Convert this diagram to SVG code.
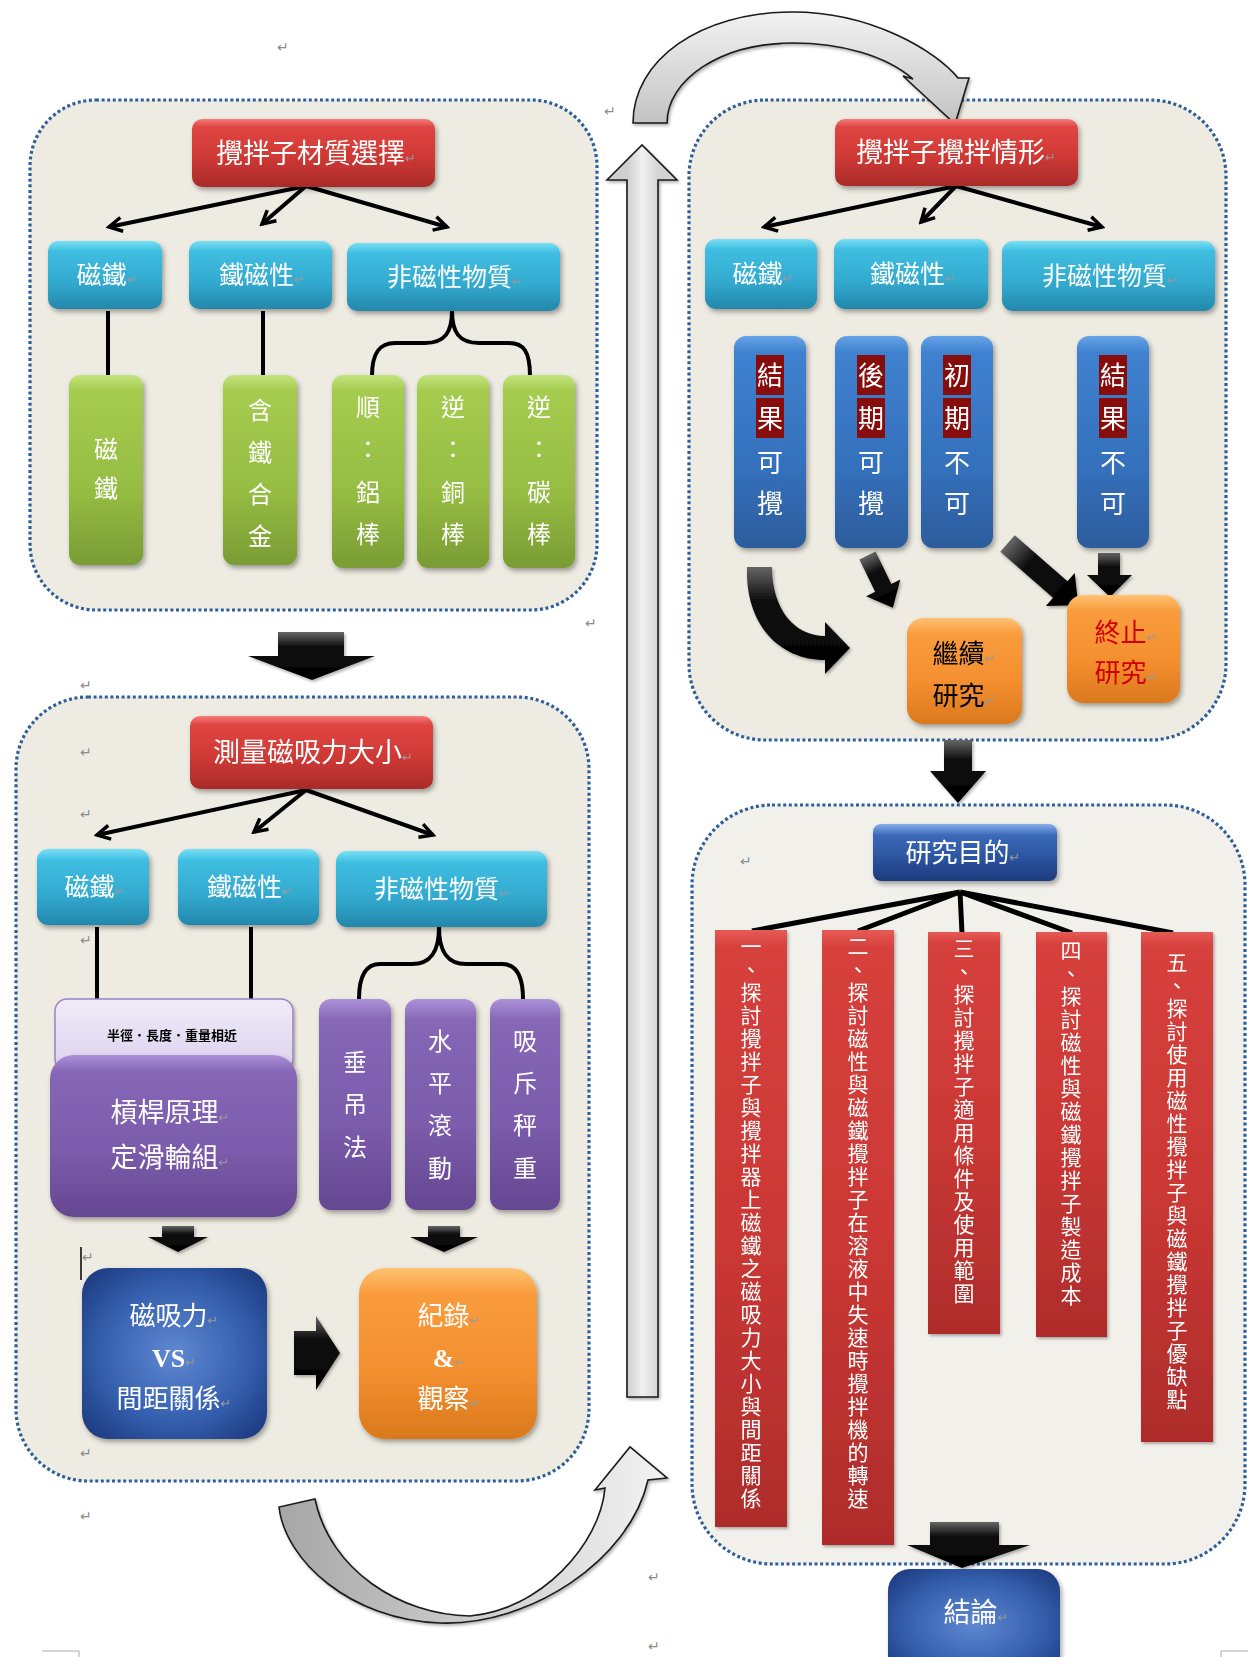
<svg xmlns="http://www.w3.org/2000/svg" width="1248" height="1657" viewBox="0 0 1248 1657">
<defs>
  <style>
    .panel{stroke:#2F5F98;stroke-width:3.2;stroke-dasharray:3 2.6}
    .t{font-family:"Noto Sans CJK TC","Noto Sans CJK SC",sans-serif;fill:#fff;text-anchor:middle}
    .serif{font-family:"Liberation Serif",serif;font-weight:bold}
    .k{fill:#000}
    .pm{fill:#9a9a9a;font-family:"DejaVu Sans",sans-serif;font-size:13px;font-weight:normal}
    .free{fill:#8c8c8c;font-family:"DejaVu Sans",sans-serif;font-size:14px}
    .vt{font-family:"Noto Sans CJK TC","Noto Sans CJK SC",sans-serif;fill:#fff;font-size:21px;letter-spacing:2px;writing-mode:vertical-rl}
    .thin{fill:none;stroke:#000;stroke-width:4;marker-end:url(#ah)}
    .ln{fill:none;stroke:#000;stroke-width:4}
    .hl{fill:#870808}
  </style>
  <filter id="sh" x="-20%" y="-20%" width="140%" height="140%">
    <feDropShadow dx="2" dy="3" stdDeviation="2.5" flood-color="#000" flood-opacity="0.35"/>
  </filter>
  <filter id="shs" x="-20%" y="-20%" width="140%" height="140%">
    <feDropShadow dx="1.5" dy="2" stdDeviation="1.5" flood-color="#000" flood-opacity="0.3"/>
  </filter>
  <marker id="ah" viewBox="0 0 18 18" refX="15" refY="9" markerWidth="18" markerHeight="18" markerUnits="userSpaceOnUse" orient="auto">
    <path d="M2,2 L15,9 L2,16" fill="none" stroke="#000" stroke-width="3.5"/>
  </marker>
  <linearGradient id="gRed" x1="0" y1="0" x2="0" y2="1">
    <stop offset="0" stop-color="#F47C78"/><stop offset="0.12" stop-color="#DF4541"/>
    <stop offset="0.55" stop-color="#D03935"/><stop offset="1" stop-color="#A92B2A"/>
  </linearGradient>
  <linearGradient id="gCyan" x1="0" y1="0" x2="0" y2="1">
    <stop offset="0" stop-color="#7ADFF6"/><stop offset="0.15" stop-color="#3FBEE1"/>
    <stop offset="0.6" stop-color="#33AACF"/><stop offset="1" stop-color="#2487AC"/>
  </linearGradient>
  <linearGradient id="gGreen" x1="0" y1="0" x2="0" y2="1">
    <stop offset="0" stop-color="#C4E47E"/><stop offset="0.08" stop-color="#A5CC4F"/>
    <stop offset="0.6" stop-color="#96BD43"/><stop offset="1" stop-color="#799C34"/>
  </linearGradient>
  <linearGradient id="gBlue" x1="0" y1="0" x2="0" y2="1">
    <stop offset="0" stop-color="#66A3E6"/><stop offset="0.08" stop-color="#3F81D0"/>
    <stop offset="0.6" stop-color="#3571BD"/><stop offset="1" stop-color="#2C5C9C"/>
  </linearGradient>
  <linearGradient id="gOrange" x1="0" y1="0" x2="0" y2="1">
    <stop offset="0" stop-color="#FFC272"/><stop offset="0.15" stop-color="#F99C3D"/>
    <stop offset="0.6" stop-color="#F48F2F"/><stop offset="1" stop-color="#DA791D"/>
  </linearGradient>
  <linearGradient id="gPurple" x1="0" y1="0" x2="0" y2="1">
    <stop offset="0" stop-color="#AC92D8"/><stop offset="0.1" stop-color="#8667B6"/>
    <stop offset="0.6" stop-color="#7B5BAB"/><stop offset="1" stop-color="#654791"/>
  </linearGradient>
  <linearGradient id="gLilac" x1="0" y1="0" x2="0" y2="1">
    <stop offset="0" stop-color="#F0EBF8"/><stop offset="1" stop-color="#DCD2EE"/>
  </linearGradient>
  <linearGradient id="gNavy" x1="0" y1="0" x2="0" y2="1">
    <stop offset="0" stop-color="#86AEEE"/><stop offset="0.2" stop-color="#3A69B8"/>
    <stop offset="0.6" stop-color="#2B549F"/><stop offset="1" stop-color="#1D3A7C"/>
  </linearGradient>
  <radialGradient id="gNavyR" cx="0.5" cy="0.5" r="0.65">
    <stop offset="0" stop-color="#6088D2"/><stop offset="0.6" stop-color="#3560AE"/>
    <stop offset="1" stop-color="#1E3C82"/>
  </radialGradient>
  <linearGradient id="gBar" x1="0" y1="0" x2="0" y2="1">
    <stop offset="0" stop-color="#E65A55"/><stop offset="0.03" stop-color="#D6403C"/>
    <stop offset="0.5" stop-color="#CB3835"/><stop offset="1" stop-color="#AE2C2B"/>
  </linearGradient>
  <linearGradient id="gBlk" x1="0" y1="0" x2="0" y2="1">
    <stop offset="0" stop-color="#666"/><stop offset="0.3" stop-color="#111"/>
    <stop offset="1" stop-color="#000"/>
  </linearGradient>
  <linearGradient id="gGrayTop" gradientUnits="userSpaceOnUse" x1="0" y1="12" x2="0" y2="125">
    <stop offset="0" stop-color="#F2F2F2"/><stop offset="1" stop-color="#C2C2C2"/>
  </linearGradient>
  <linearGradient id="gGrayBot" gradientUnits="userSpaceOnUse" x1="279" y1="0" x2="667" y2="0">
    <stop offset="0" stop-color="#A6A6A6"/><stop offset="1" stop-color="#F3F3F3"/>
  </linearGradient>
  <linearGradient id="gGrayUp" gradientUnits="userSpaceOnUse" x1="627" y1="0" x2="658" y2="0">
    <stop offset="0" stop-color="#CFCFCF"/><stop offset="0.5" stop-color="#F0F0F0"/>
    <stop offset="1" stop-color="#D4D4D4"/>
  </linearGradient>
</defs>

<rect x="0" y="0" width="1248" height="1657" fill="#fff"/>

<!-- dotted group panels -->
<g id="panels">
  <rect id="panel-material" class="panel" x="30" y="100" width="567" height="510" rx="66" fill="#EEECE2"/>
  <rect id="panel-measure" class="panel" x="16" y="697" width="573" height="784" rx="72" fill="#EEECE2"/>
  <rect id="panel-stirring" class="panel" x="689" y="100" width="537" height="640" rx="76" fill="#EEECE2"/>
  <rect id="panel-purpose" class="panel" x="692" y="805" width="553" height="759" rx="80" fill="#F1F0EB"/>
</g>

<!-- paragraph marks and page marks -->
<g id="marks">
  <text class="free" x="277" y="52">↵</text>
  <text class="free" x="604" y="116">↵</text>
  <text class="free" x="585" y="628">↵</text>
  <text class="free" x="80" y="690">↵</text>
  <text class="free" x="80" y="757">↵</text>
  <text class="free" x="80" y="819">↵</text>
  <text class="free" x="80" y="945">↵</text>
  <text class="free" x="80" y="1458">↵</text>
  <text class="free" x="80" y="1521">↵</text>
  <text class="free" x="740" y="866">↵</text>
  <text class="free" x="648" y="1582">↵</text>
  <text class="free" x="648" y="1651">↵</text>
  <line x1="81" y1="1247" x2="81" y2="1280" stroke="#000" stroke-width="1.5"/>
  <text class="free" x="82" y="1262">↵</text>
  <path d="M42,1651 H79 V1657" fill="none" stroke="#aaa" stroke-width="1"/>
  <path d="M1248,1651 H1221 V1657" fill="none" stroke="#aaa" stroke-width="1"/>
</g>

<!-- connectors: thin arrows, braces, block arrows and curved arrows -->
<g id="connectors">
  <!-- panel: material selection -->
  <path class="thin" d="M306,186 L109,227"/>
  <path class="thin" d="M306,186 L262,224"/>
  <path class="thin" d="M306,186 L447,227"/>
  <path class="ln" d="M108,311 V375 M263,311 V375"/>
  <path class="ln" d="M452,311 C452,332 445,343 425,343 L395,343 C380,343 372,352 372,376 M452,311 C452,332 459,343 479,343 L509,343 C524,343 530,352 530,376"/>
  <!-- panel: force measurement -->
  <path class="thin" d="M306,790 L97,835"/>
  <path class="thin" d="M306,790 L254,832"/>
  <path class="thin" d="M306,790 L433,835"/>
  <path class="ln" d="M97,927 V999 M251,927 V999"/>
  <path class="ln" d="M439,927 C439,950 432,964 412,964 L380,964 C366,964 359,975 359,999 M439,927 C439,950 446,964 466,964 L502,964 C516,964 523,975 523,999"/>
  <!-- panel: stirring behaviour -->
  <path class="thin" d="M956,186 L764,227"/>
  <path class="thin" d="M956,186 L921,222"/>
  <path class="thin" d="M956,186 L1102,227"/>
  <!-- panel: purpose -->
  <path d="M960,892 L752,931 M960,892 L858,931 M960,892 L962,933 M960,892 L1072,933 M960,892 L1173,933" fill="none" stroke="#000" stroke-width="5"/>

  <!-- block arrows -->
  <g fill="url(#gBlk)" filter="url(#shs)">
    <path d="M278,632 H344 V656 H375 L312,680 L248,656 H278 Z"/>
    <path d="M162,1226 H194 V1237 H208 L178,1252 L148,1237 H162 Z"/>
    <path d="M428,1226 H460 V1237 H478 L444,1252 L410,1237 H428 Z"/>
    <path d="M294,1331 H316 V1316 L340,1353 L316,1390 V1375 H294 Z"/>
    <path d="M944,740 H972 V771 H986 L958,803 L930,771 H944 Z"/>
    <path d="M930,1522 H999 V1545 H1030 L962,1568 L907,1545 H930 Z"/>
    <path d="M747,567 H772 C772,610 795,636 825,636 V622 L850,648 L825,674 V660 C780,660 745,625 747,567 Z"/>
    <path transform="translate(867.5,555.5) rotate(-25.9)" d="M-9,0 H9 V36 H19 L0,58 L-19,36 H-9 Z"/>
    <path transform="translate(1007.5,543.5) rotate(-48.9)" d="M-11,0 H11 V70 H22 L0,94 L-22,70 H-11 Z"/>
    <path d="M1098,553 H1120 V575 H1132 L1110,597 L1087,575 H1098 Z"/>
  </g>

  <!-- curved and straight grey arrows -->
  <g stroke="#1a1a1a" stroke-width="1.6" stroke-linejoin="miter" filter="url(#shs)">
    <path fill="url(#gGrayTop)" d="M633,123 C633,60 700,12 793,12 C870,12 935,50 958,78 L969,78 L955,124 L903,76 L913,79 C885,55 840,43 793,43 C720,43 667,80 667,123 Z"/>
    <path fill="url(#gGrayUp)" d="M627,1397 V180 H607 L642,145 L677,180 H658 V1397 Z"/>
    <path fill="url(#gGrayBot)" d="M279,1507 C285,1560 350,1620 440,1623 C530,1626 630,1560 648,1480 L667,1478 L630,1447 L595,1490 L605,1488 C600,1545 540,1610 470,1616 C400,1615 330,1570 315,1499 Z"/>
  </g>
</g>

<!-- ===== material selection ===== -->
<g id="node-material-title" filter="url(#sh)">
  <rect x="192" y="119" width="243" height="68" rx="10" fill="url(#gRed)"/>
  <text class="t" x="316" y="163" font-size="27">攪拌子材質選擇<tspan class="pm">↵</tspan></text>
</g>
<g id="node-a-magnet" filter="url(#sh)">
  <rect x="48" y="241" width="114" height="68" rx="10" fill="url(#gCyan)"/>
  <text class="t" x="107" y="284" font-size="25">磁鐵<tspan class="pm">↵</tspan></text>
</g>
<g id="node-a-ferro" filter="url(#sh)">
  <rect x="189" y="241" width="143" height="68" rx="10" fill="url(#gCyan)"/>
  <text class="t" x="262" y="284" font-size="25">鐵磁性<tspan class="pm">↵</tspan></text>
</g>
<g id="node-a-nonmag" filter="url(#sh)">
  <rect x="347" y="243" width="213" height="68" rx="10" fill="url(#gCyan)"/>
  <text class="t" x="455" y="286" font-size="25">非磁性物質<tspan class="pm">↵</tspan></text>
</g>
<g id="node-a-magnet-bar" filter="url(#sh)">
  <rect x="69" y="375" width="74" height="190" rx="11" fill="url(#gGreen)"/>
  <text class="t" font-size="24"><tspan x="106" y="458">磁</tspan><tspan x="106" y="497">鐵</tspan></text>
</g>
<g id="node-a-alloy" filter="url(#sh)">
  <rect x="223" y="375" width="74" height="190" rx="11" fill="url(#gGreen)"/>
  <text class="t" font-size="24"><tspan x="260" y="419">含</tspan><tspan x="260" y="461">鐵</tspan><tspan x="260" y="503">合</tspan><tspan x="260" y="545">金</tspan></text>
</g>
<g id="node-a-al" filter="url(#sh)">
  <rect x="332" y="375" width="72" height="193" rx="11" fill="url(#gGreen)"/>
  <text class="t" font-size="24"><tspan x="368" y="416">順</tspan><tspan x="368" y="458">：</tspan><tspan x="368" y="501">鋁</tspan><tspan x="368" y="543">棒</tspan></text>
</g>
<g id="node-a-cu" filter="url(#sh)">
  <rect x="417" y="375" width="72" height="193" rx="11" fill="url(#gGreen)"/>
  <text class="t" font-size="24"><tspan x="453" y="416">逆</tspan><tspan x="453" y="458">：</tspan><tspan x="453" y="501">銅</tspan><tspan x="453" y="543">棒</tspan></text>
</g>
<g id="node-a-c" filter="url(#sh)">
  <rect x="503" y="375" width="72" height="193" rx="11" fill="url(#gGreen)"/>
  <text class="t" font-size="24"><tspan x="539" y="416">逆</tspan><tspan x="539" y="458">：</tspan><tspan x="539" y="501">碳</tspan><tspan x="539" y="543">棒</tspan></text>
</g>

<!-- ===== force measurement ===== -->
<g id="node-measure-title" filter="url(#sh)">
  <rect x="190" y="716" width="243" height="73" rx="10" fill="url(#gRed)"/>
  <text class="t" x="313" y="762" font-size="27">測量磁吸力大小<tspan class="pm">↵</tspan></text>
</g>
<g id="node-b-magnet" filter="url(#sh)">
  <rect x="37" y="849" width="112" height="76" rx="11" fill="url(#gCyan)"/>
  <text class="t" x="95" y="896" font-size="25">磁鐵<tspan class="pm">↵</tspan></text>
</g>
<g id="node-b-ferro" filter="url(#sh)">
  <rect x="178" y="849" width="141" height="76" rx="11" fill="url(#gCyan)"/>
  <text class="t" x="250" y="896" font-size="25">鐵磁性<tspan class="pm">↵</tspan></text>
</g>
<g id="node-b-nonmag" filter="url(#sh)">
  <rect x="336" y="851" width="211" height="76" rx="11" fill="url(#gCyan)"/>
  <text class="t" x="442" y="898" font-size="25">非磁性物質<tspan class="pm">↵</tspan></text>
</g>
<g id="node-b-condition" filter="url(#shs)">
  <rect x="55" y="999" width="238" height="72" rx="12" fill="url(#gLilac)" stroke="#9A82C6" stroke-width="1.5"/>
  <text class="t k" x="172" y="1040" font-size="13" font-weight="bold">半徑．長度．重量相近</text>
</g>
<g id="node-b-lever" filter="url(#sh)">
  <rect x="50" y="1055" width="247" height="162" rx="24" fill="url(#gPurple)"/>
  <text class="t" font-size="27"><tspan x="170" y="1122">槓桿原理<tspan class="pm">↵</tspan></tspan><tspan x="170" y="1167">定滑輪組<tspan class="pm">↵</tspan></tspan></text>
</g>
<g id="node-b-hang" filter="url(#sh)">
  <rect x="319" y="999" width="72" height="211" rx="12" fill="url(#gPurple)"/>
  <text class="t" font-size="24"><tspan x="355" y="1071">垂</tspan><tspan x="355" y="1113">吊</tspan><tspan x="355" y="1156">法</tspan></text>
</g>
<g id="node-b-roll" filter="url(#sh)">
  <rect x="405" y="999" width="71" height="211" rx="12" fill="url(#gPurple)"/>
  <text class="t" font-size="24"><tspan x="440" y="1050">水</tspan><tspan x="440" y="1092">平</tspan><tspan x="440" y="1134">滾</tspan><tspan x="440" y="1177">動</tspan></text>
</g>
<g id="node-b-weigh" filter="url(#sh)">
  <rect x="490" y="999" width="70" height="211" rx="12" fill="url(#gPurple)"/>
  <text class="t" font-size="24"><tspan x="525" y="1050">吸</tspan><tspan x="525" y="1092">斥</tspan><tspan x="525" y="1134">秤</tspan><tspan x="525" y="1177">重</tspan></text>
</g>
<g id="node-b-force" filter="url(#sh)">
  <rect x="82" y="1268" width="185" height="171" rx="26" fill="url(#gNavyR)"/>
  <text class="t" font-size="26"><tspan x="174" y="1325">磁吸力<tspan class="pm">↵</tspan></tspan></text>
  <text class="t serif" x="174" y="1367" font-size="26">VS<tspan class="pm">↵</tspan></text>
  <text class="t" font-size="26"><tspan x="174" y="1408">間距關係<tspan class="pm">↵</tspan></tspan></text>
</g>
<g id="node-b-record" filter="url(#sh)">
  <rect x="359" y="1268" width="178" height="171" rx="26" fill="url(#gOrange)"/>
  <text class="t" font-size="26"><tspan x="449" y="1325">紀錄<tspan class="pm">↵</tspan></tspan></text>
  <text class="t serif" x="449" y="1367" font-size="26">&amp;<tspan class="pm">↵</tspan></text>
  <text class="t" font-size="26"><tspan x="449" y="1408">觀察<tspan class="pm">↵</tspan></tspan></text>
</g>

<!-- ===== stirring behaviour ===== -->
<g id="node-stir-title" filter="url(#sh)">
  <rect x="835" y="119" width="243" height="67" rx="10" fill="url(#gRed)"/>
  <text class="t" x="956" y="162" font-size="27">攪拌子攪拌情形<tspan class="pm">↵</tspan></text>
</g>
<g id="node-c-magnet" filter="url(#sh)">
  <rect x="705" y="239" width="112" height="70" rx="11" fill="url(#gCyan)"/>
  <text class="t" x="763" y="283" font-size="25">磁鐵<tspan class="pm">↵</tspan></text>
</g>
<g id="node-c-ferro" filter="url(#sh)">
  <rect x="834" y="239" width="154" height="70" rx="11" fill="url(#gCyan)"/>
  <text class="t" x="913" y="283" font-size="25">鐵磁性<tspan class="pm">↵</tspan></text>
</g>
<g id="node-c-nonmag" filter="url(#sh)">
  <rect x="1002" y="241" width="213" height="70" rx="11" fill="url(#gCyan)"/>
  <text class="t" x="1110" y="285" font-size="25">非磁性物質<tspan class="pm">↵</tspan></text>
</g>
<g id="node-c-result-ok" filter="url(#sh)">
  <rect x="734" y="336" width="72" height="212" rx="12" fill="url(#gBlue)"/>
  <rect class="hl" x="756" y="355" width="28" height="40"/><rect class="hl" x="756" y="398" width="28" height="40"/>
  <text class="t" font-size="26"><tspan x="770" y="385">結</tspan><tspan x="770" y="428">果</tspan><tspan x="770" y="472">可</tspan><tspan x="770" y="513">攪</tspan></text>
</g>
<g id="node-c-late-ok" filter="url(#sh)">
  <rect x="835" y="336" width="73" height="212" rx="12" fill="url(#gBlue)"/>
  <rect class="hl" x="857" y="355" width="28" height="40"/><rect class="hl" x="857" y="398" width="28" height="40"/>
  <text class="t" font-size="26"><tspan x="871" y="385">後</tspan><tspan x="871" y="428">期</tspan><tspan x="871" y="472">可</tspan><tspan x="871" y="513">攪</tspan></text>
</g>
<g id="node-c-early-no" filter="url(#sh)">
  <rect x="921" y="336" width="72" height="212" rx="12" fill="url(#gBlue)"/>
  <rect class="hl" x="943" y="355" width="28" height="40"/><rect class="hl" x="943" y="398" width="28" height="40"/>
  <text class="t" font-size="26"><tspan x="957" y="385">初</tspan><tspan x="957" y="428">期</tspan><tspan x="957" y="472">不</tspan><tspan x="957" y="513">可</tspan></text>
</g>
<g id="node-c-result-no" filter="url(#sh)">
  <rect x="1077" y="336" width="72" height="212" rx="12" fill="url(#gBlue)"/>
  <rect class="hl" x="1099" y="355" width="28" height="40"/><rect class="hl" x="1099" y="398" width="28" height="40"/>
  <text class="t" font-size="26"><tspan x="1113" y="385">結</tspan><tspan x="1113" y="428">果</tspan><tspan x="1113" y="472">不</tspan><tspan x="1113" y="513">可</tspan></text>
</g>
<g id="node-c-continue" filter="url(#sh)">
  <rect x="907" y="618" width="115" height="106" rx="16" fill="url(#gOrange)"/>
  <text class="t k" font-size="26"><tspan x="964" y="663">繼續<tspan class="pm">↵</tspan></tspan><tspan x="964" y="705">研究<tspan class="pm">↵</tspan></tspan></text>
</g>
<g id="node-c-stop" filter="url(#sh)">
  <rect x="1067" y="595" width="113" height="108" rx="16" fill="url(#gOrange)"/>
  <text class="t" style="fill:#D00000" font-size="26"><tspan x="1126" y="642">終止<tspan class="pm">↵</tspan></tspan><tspan x="1126" y="682">研究<tspan class="pm">↵</tspan></tspan></text>
</g>

<!-- ===== research purpose ===== -->
<g id="node-purpose-title" filter="url(#sh)">
  <rect x="873" y="824" width="184" height="57" rx="8" fill="url(#gNavy)"/>
  <text class="t" x="963" y="862" font-size="26">研究目的<tspan class="pm">↵</tspan></text>
</g>
<g id="node-d-1" filter="url(#shs)">
  <rect x="715" y="930" width="72" height="597" fill="url(#gBar)"/>
  <text class="vt" x="751" y="936">一、探討攪拌子與攪拌器上磁鐵之磁吸力大小與間距關係</text>
</g>
<g id="node-d-2" filter="url(#shs)">
  <rect x="822" y="930" width="72" height="615" fill="url(#gBar)"/>
  <text class="vt" x="858" y="936">二、探討磁性與磁鐵攪拌子在溶液中失速時攪拌機的轉速</text>
</g>
<g id="node-d-3" filter="url(#shs)">
  <rect x="928" y="932" width="72" height="402" fill="url(#gBar)"/>
  <text class="vt" x="964" y="938">三、探討攪拌子適用條件及使用範圍</text>
</g>
<g id="node-d-4" filter="url(#shs)">
  <rect x="1036" y="932" width="71" height="405" fill="url(#gBar)"/>
  <text class="vt" x="1071" y="940">四、探討磁性與磁鐵攪拌子製造成本</text>
</g>
<g id="node-d-5" filter="url(#shs)">
  <rect x="1141" y="932" width="72" height="510" fill="url(#gBar)"/>
  <text class="vt" x="1177" y="952">五、探討使用磁性攪拌子與磁鐵攪拌子優缺點</text>
</g>
<g id="node-conclusion" filter="url(#sh)">
  <rect x="888" y="1569" width="172" height="110" rx="22" fill="url(#gNavyR)"/>
  <text class="t" x="976" y="1622" font-size="27">結論<tspan class="pm">↵</tspan></text>
</g>
</svg>
